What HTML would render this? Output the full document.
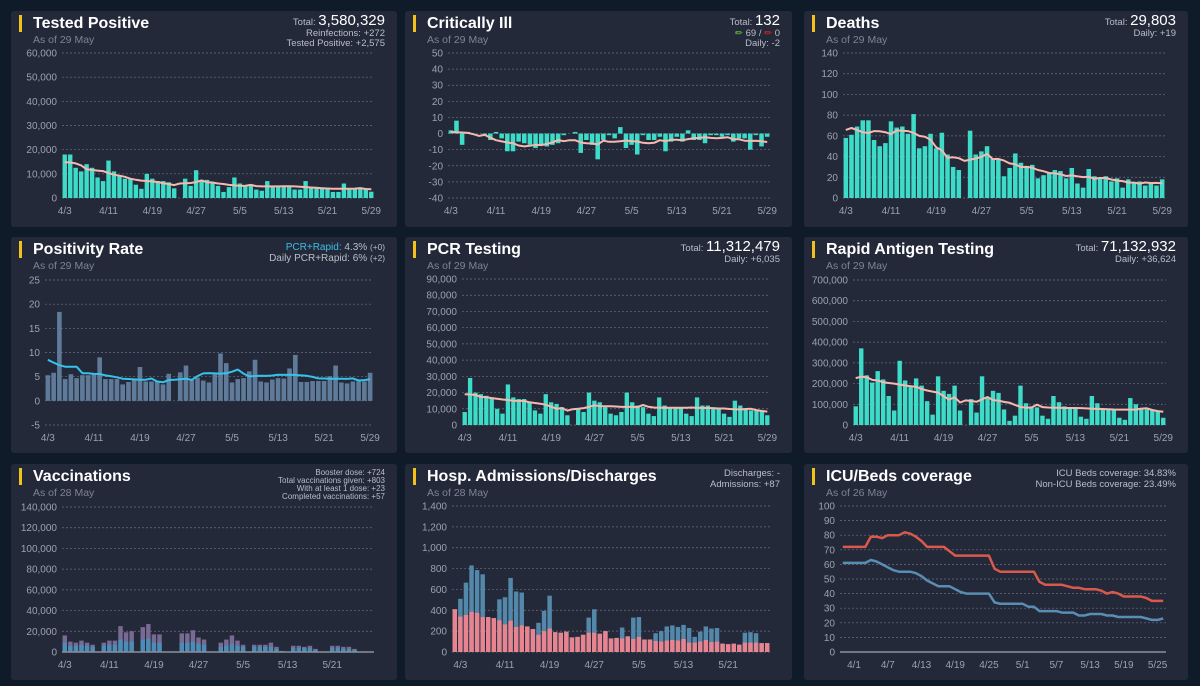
<!DOCTYPE html>
<html><head><meta charset="utf-8">
<style>
body{margin:0;width:1200px;height:686px;background:#0f1b28;font-family:"Liberation Sans",sans-serif;overflow:hidden;position:relative}
.panel{position:absolute;background:#232939;border-radius:3px}
.title{position:absolute;left:8px;top:4px;color:#fff;font-size:16px;font-weight:bold;padding-left:11px;border-left:3px solid #f2c21b;line-height:17px}
.sub{position:absolute;left:22px;top:23px;color:#7d8494;font-size:10.5px}
.info{position:absolute;right:12px;top:5px;text-align:right;color:#b9bec8;font-size:9.5px;line-height:10.5px}
.info b{font-weight:normal;font-size:15px;color:#fff}
svg{position:absolute;left:0;top:0}
</style></head><body>
<div class="panel" style="left:11px;top:11px;width:386px;height:216px">
<div class="title">Tested Positive</div><div class="sub">As of 29 May</div>
<div class="info">Total: <b>3,580,329</b><br>Reinfections: +272<br>Tested Positive: +2,575</div></div>
<div class="panel" style="left:405px;top:11px;width:387px;height:216px">
<div class="title">Critically Ill</div><div class="sub">As of 29 May</div>
<div class="info">Total: <b>132</b><br><span style="color:#6c3">&#9999;</span> 69 / <span style="color:#e22">&#9999;</span> 0<br>Daily: -2</div></div>
<div class="panel" style="left:804px;top:11px;width:384px;height:216px">
<div class="title">Deaths</div><div class="sub">As of 29 May</div>
<div class="info">Total: <b>29,803</b><br>Daily: +19</div></div>
<div class="panel" style="left:11px;top:237px;width:386px;height:216px">
<div class="title">Positivity Rate</div><div class="sub">As of 29 May</div>
<div class="info" style="font-size:10px;line-height:11px"><span style="color:#3bbfe6">PCR+Rapid:</span> 4.3% <small>(+0)</small><br>Daily PCR+Rapid: 6% <small>(+2)</small></div></div>
<div class="panel" style="left:405px;top:237px;width:387px;height:216px">
<div class="title">PCR Testing</div><div class="sub">As of 29 May</div>
<div class="info">Total: <b>11,312,479</b><br>Daily: +6,035</div></div>
<div class="panel" style="left:804px;top:237px;width:384px;height:216px">
<div class="title">Rapid Antigen Testing</div><div class="sub">As of 29 May</div>
<div class="info">Total: <b>71,132,932</b><br>Daily: +36,624</div></div>
<div class="panel" style="left:11px;top:464px;width:386px;height:216px">
<div class="title">Vaccinations</div><div class="sub">As of 28 May</div>
<div class="info" style="font-size:8px;line-height:8px">Booster dose: +724<br>Total vaccinations given: +803<br>With at least 1 dose: +23<br>Completed vaccinations: +57</div></div>
<div class="panel" style="left:405px;top:464px;width:387px;height:216px">
<div class="title">Hosp. Admissions/Discharges</div><div class="sub">As of 28 May</div>
<div class="info">Discharges: -<br>Admissions: +87</div></div>
<div class="panel" style="left:804px;top:464px;width:384px;height:216px">
<div class="title">ICU/Beds coverage</div><div class="sub">As of 26 May</div>
<div class="info">ICU Beds coverage: 34.83%<br>Non-ICU Beds coverage: 23.49%</div></div>

<svg id="chart" width="1200" height="686"></svg>
<script>
const testedPos=[18,18,12.5,11,14,12.5,8.5,7,15.5,11,9.5,8,8,5.5,3.8,10,8,7,7,6.5,4,0,8,5,11.5,7.5,7.5,6.5,5,2.5,4.5,8.5,6,5,5,3.5,3,7,5,5,5,5,3.5,3.5,7,4.5,4,4,4,2.5,2.5,6,4,4,4,4,2.6];
const critIll=[2,8,-7,1,0,0,-1,-4,1,-3,-11,-11,-5,-6,-7,-9,-7,-8,-7,-6,-1,0,1,-12,-4,-7,-16,-4,-1,-3,4,-9,-7,-13,-1,-4,-4,-2,-11,-5,-2,-5,2,-4,-4,-6,-1,-1,-2,-1,-5,-3,-3,-10,-1,-8,-2];
const deaths=[58,61,69,75,75,56,50,53,74,68,69,62,81,48,50,62,48,63,42,30,27,0,65,42,45,50,38,38,21,29,43,34,31,32,19,22,24,27,26,19,29,14,10,28,21,20,21,16,19,10,18,14,16,12,15,12,18];
const positivity=[5.3,5.8,18.4,4.5,5.5,4.7,5.3,5.3,5.7,9,4.5,4.5,4.5,3.4,3.9,4.3,7,4,4,4,3.4,5.6,0,5.9,7.3,4.3,4.8,4.2,3.8,5.5,9.8,7.8,3.8,4.5,4.7,6.1,8.5,4,3.8,4.4,4.7,4.6,6.7,9.5,3.9,3.9,4.1,4.1,4.1,5.1,7.3,3.8,3.6,4,4,4,5.8];
const pcr=[8,29,20,19,18,17,10,7,25,17,16,16,14,9,7,19,14,13,11,6,0,10,8,20,15,14,11,7,6,8,20,14,12,11,7,5.5,17,12,11,11,11,7,5.5,17,12,12,10,10,7,5,15,12,10,9,9,9,6];
const rapid=[90,370,240,205,260,220,140,70,310,215,185,225,190,115,50,235,165,150,190,70,0,125,60,235,130,165,155,75,20,45,190,105,90,85,45,30,140,110,90,85,80,40,30,140,105,80,75,75,35,25,130,100,80,75,75,70,35];
const vaccTotal=[16,10,9,11,9,7,0,9,11,11,25,19,20,0,24,27,17,17,0,0,0,18,18,21,14,12,0,0,9,12,16,11,7,0,7,7,7,9,5,1,0,6,6,5,6,3,0,0,6,6,5,5,3,0,0,0];
const vaccBlue=[9,6,6,7,6,5,0,6,7,7,12,10,10,0,12,13,9,9,0,0,0,9,9,10,8,7,0,0,5,6,8,6,5,0,5,5,5,5,3,1,0,4,4,4,4,2,0,0,4,4,3,3,2,0,0,0];
const hospRed=[410,340,355,385,375,335,335,325,305,265,300,240,255,245,220,165,200,225,190,185,195,140,145,165,185,185,175,200,130,135,130,150,125,145,120,120,105,100,110,115,110,125,90,90,100,115,95,100,80,75,80,70,90,90,90,85,85];
const hospTotal=[410,510,665,830,785,745,335,325,505,525,710,580,570,245,220,280,395,540,190,185,195,140,145,165,330,410,175,200,130,135,235,150,330,335,120,120,180,200,245,255,240,260,230,145,195,245,225,230,80,75,80,70,185,190,180,85,85];
const icuRed=[72,72,72,72,72,79,79,78,80,80,80,82,81,79,76,72,72,72,72,69,66,66,66,66,66,66,66,57,55,55,55,55,55,55,55,48,46,46,46,46,45,44,44,43,43,43,42,40,41,40,38,38,38,38,37,35,35,35];
const icuBlue=[61,61,61,61,61,63,62,60,58,56,55,55,55,54,52,49,47,45,45,45,43,41,40,40,40,40,40,34,33,33,33,33,33,31,31,28,28,28,28,27,27,27,25,25,26,26,26,25,25,24,24,24,24,24,23,22,22,23];
const dayLabels=["4/3","4/11","4/19","4/27","5/5","5/13","5/21","5/29"];
const hospLabels=["4/3","4/11","4/19","4/27","5/5","5/13","5/21"];
const icuLabels=["4/1","4/7","4/13","4/19","4/25","5/1","5/7","5/13","5/19","5/25"];
const tpTicks=[0,10000,20000,30000,40000,50000,60000];
const ciTicks=[-40,-30,-20,-10,0,10,20,30,40,50];
const deTicks=[0,20,40,60,80,100,120,140];
const poTicks=[-5,0,5,10,15,20,25];
const pcrTicks=[0,10000,20000,30000,40000,50000,60000,70000,80000,90000];
const raTicks=[0,100000,200000,300000,400000,500000,600000,700000];
const vaTicks=[0,20000,40000,60000,80000,100000,120000,140000];
const hoTicks=[0,200,400,600,800,1000,1200,1400];
const icTicks=[0,10,20,30,40,50,60,70,80,90,100];

const svg=document.getElementById('chart');
const NS='http://www.w3.org/2000/svg';
function mk(tag,attrs,parent){const e=document.createElementNS(NS,tag);for(const k in attrs)e.setAttribute(k,attrs[k]);(parent||svg).appendChild(e);return e;}
function fmt(v){return v.toLocaleString('en-US');}
function smooth(d){return d.map((v,i)=>{let s=0,c=0;for(let j=Math.max(0,i-3);j<=Math.min(d.length-1,i+3);j++){s+=d[j];c++;}return s/c;});}
function chart(c){
  const g=mk('g',{});
  
  
  const n=c.n, bw=(c.x1-c.x0)/n;
  const ys=v=>c.yb-(v-c.min)/(c.max-c.min)*(c.yb-c.yt);
  const xs=i=>c.x0+(i+0.5)*bw;
  c.ticks.forEach(t=>{
    const y=ys(t);
    const gl=mk('line',{x1:c.x0,x2:c.x1,y1:y,y2:y,stroke:'#6a7080','stroke-width':0.7,'stroke-dasharray':'2,2'},g);
    
    
    const tl=mk('text',{x:c.x0-5,y:y+3.5,'text-anchor':'end','font-size':10,fill:'#9ba1ad'},g);
    tl.textContent=fmt(t);
    
    
  });
  (c.bars||[]).forEach(b=>{
    b.data.forEach((v,i)=>{
      const base=b.base?b.base[i]:0;
      const top=b.base?v:v;
      const y1=ys(Math.max(top,base)), y2=ys(Math.min(top,base));
      if(y2-y1<=0)return;
      const r=mk('rect',{x:xs(i)-bw*0.4,y:y1,width:bw*0.8,height:y2-y1,fill:b.color},g);
      
      
    });
  });
  (c.lines||[]).forEach(l=>{
    const pts=l.data.map((v,i)=>xs(i).toFixed(1)+','+ys(v).toFixed(1)).join(' ');
    const p=mk('polyline',{points:pts,fill:'none',stroke:l.color,'stroke-width':l.w||2,'stroke-linejoin':'round'},g);
    
    
  });
  if(c.baseline){const bl=mk('line',{x1:c.x0,x2:c.x1,y1:ys(0),y2:ys(0),stroke:'#8a909c','stroke-width':1.5},g);
    
    }
  c.xl.forEach((t,k)=>{
    const idx=c.xi0+k*c.xstep;
    const tx=mk('text',{x:xs(idx),y:c.yb+16,'text-anchor':'middle','font-size':10,fill:'#9ba1ad'},g);
    tx.textContent=t;
    
    
  });
}
const teal='#3ddcc8', pink='#f6b9b0';
chart({name:'tested-positive-chart',n:57,x0:62,x1:374,yt:53,yb:198,min:0,max:60000,ticks:tpTicks,xl:dayLabels,xi0:0,xstep:8,
  bars:[{data:testedPos.map(v=>v*1000),color:teal,label:'tested-positive-bar'}],lines:[{data:smooth(testedPos).map(v=>v*1000),color:pink,label:'tested-positive-avg'}]});
chart({name:'critically-ill-chart',n:57,x0:448,x1:770,yt:53,yb:198,min:-40,max:50,ticks:ciTicks,xl:dayLabels,xi0:0,xstep:8,
  bars:[{data:critIll,color:teal,label:'critically-ill-bar'}],lines:[{data:smooth(critIll),color:pink,label:'critically-ill-avg'}]});
chart({name:'deaths-chart',n:57,x0:843,x1:1165,yt:53,yb:198,min:0,max:140,ticks:deTicks,xl:dayLabels,xi0:0,xstep:8,
  bars:[{data:deaths,color:teal,label:'deaths-bar'}],lines:[{data:smooth(deaths),color:pink,label:'deaths-avg'}]});
chart({name:'positivity-chart',n:57,x0:45,x1:373,yt:280,yb:425,min:-5,max:25,ticks:poTicks,xl:dayLabels,xi0:0,xstep:8,
  bars:[{data:positivity,color:'#5f7b99',label:'positivity-bar'}],lines:[{data:smooth(positivity),color:'#35c3ea',label:'positivity-avg'}]});
chart({name:'pcr-chart',n:57,x0:462,x1:770,yt:279,yb:425,min:0,max:90000,ticks:pcrTicks,xl:dayLabels,xi0:0,xstep:8,
  bars:[{data:pcr.map(v=>v*1000),color:teal,label:'pcr-bar'}],lines:[{data:smooth(pcr).map(v=>v*1000),color:pink,label:'pcr-avg'}]});
chart({name:'rapid-chart',n:57,x0:853,x1:1166,yt:280,yb:425,min:0,max:700000,ticks:raTicks,xl:dayLabels,xi0:0,xstep:8,
  bars:[{data:rapid.map(v=>v*1000),color:teal,label:'rapid-bar'}],lines:[{data:smooth(rapid).map(v=>v*1000),color:pink,label:'rapid-avg'}]});
chart({name:'vaccinations-chart',n:56,x0:62,x1:374,yt:507,yb:652,min:0,max:140000,ticks:vaTicks,xl:hospLabels,xi0:0,xstep:8,baseline:true,
  bars:[{data:vaccTotal.map(v=>v*1000),color:'#786a92',label:'vaccination-booster-bar'},{data:vaccBlue.map(v=>v*1000),color:'#4b8db7',label:'vaccination-dose-bar'}]});
chart({name:'hosp-chart',n:57,x0:452,x1:770,yt:506,yb:652,min:0,max:1400,ticks:hoTicks,xl:hospLabels,xi0:1,xstep:8,
  bars:[{data:hospTotal,color:'#5388aa',label:'admission-bar'},{data:hospRed,color:'#e8848f',label:'discharge-bar'}]});
chart({name:'icu-chart',n:58,x0:840,x1:1166,yt:506,yb:652,min:0,max:100,ticks:icTicks,xl:icuLabels,xi0:2,xstep:6,baseline:true,
  lines:[{data:icuRed,color:'#d95a4c',label:'icu-coverage-line',w:2.5},{data:icuBlue,color:'#5a8db2',label:'non-icu-coverage-line',w:2.5}]});
</script>
</body></html>
